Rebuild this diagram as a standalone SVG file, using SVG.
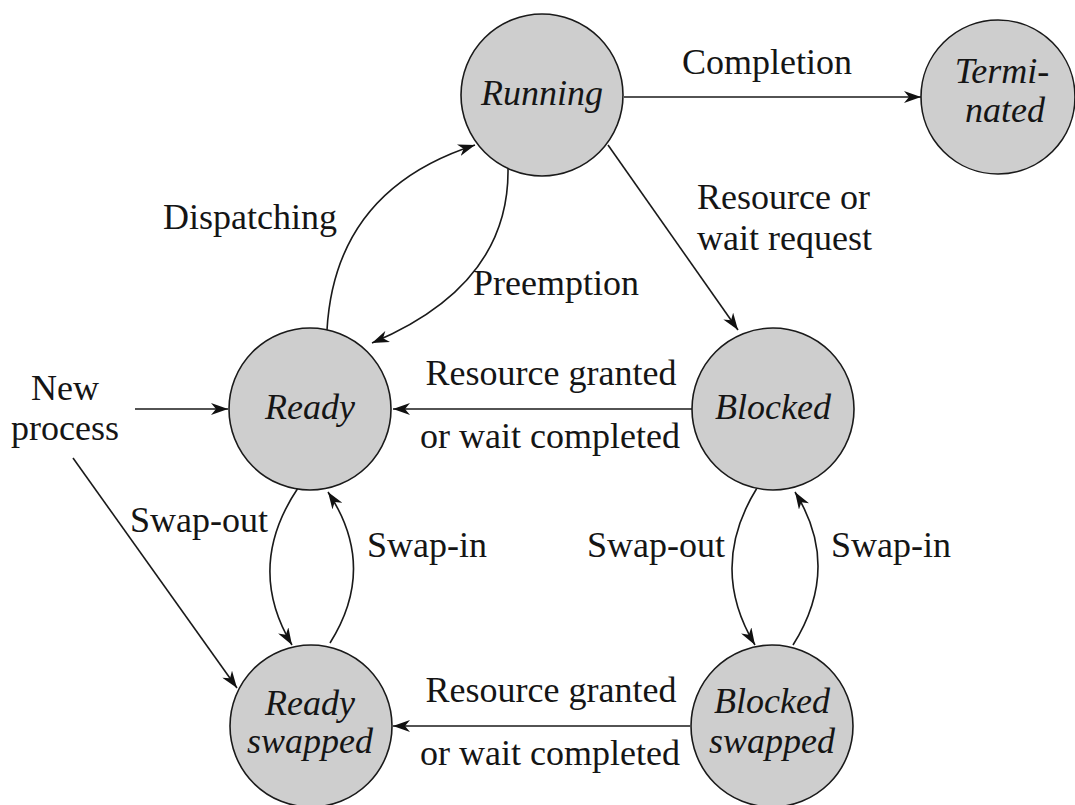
<svg xmlns="http://www.w3.org/2000/svg" width="1075" height="805" viewBox="0 0 1075 805">
  <defs>
    <marker id="arrow" markerUnits="userSpaceOnUse" markerWidth="18" markerHeight="12" refX="17" refY="6" orient="auto">
      <path d="M0,0 L17,6 L0,12 L5,6 z" fill="#111"/>
    </marker>
  </defs>
  <style>
    .state circle { fill: #cecece; stroke: #1a1a1a; stroke-width: 1.6; }
    .state text { font-family: "Liberation Serif", "Times New Roman", serif; font-style: italic; font-size: 36px; fill: #151515; text-anchor: middle; }
    .edge { fill: none; stroke: #1a1a1a; stroke-width: 1.6; }
    .arr { marker-end: url(#arrow); }
    .label { font-family: "Liberation Serif", "Times New Roman", serif; font-size: 36px; fill: #151515; text-anchor: middle; }
  </style>
  <rect width="1075" height="805" fill="#ffffff"/>

  <!-- transitions -->
  <g id="connectors">
    <!-- Running -> Terminated -->
    <line class="edge arr" x1="624" y1="97" x2="921" y2="97"/>
    <!-- Running -> Blocked -->
    <line class="edge arr" x1="608" y1="145" x2="738" y2="330"/>
    <!-- Ready -> Running (dispatching) -->
    <path class="edge arr" d="M327,330 Q335,190 475,145"/>
    <!-- Running -> Ready (preemption) -->
    <path class="edge arr" d="M508,168 Q510,285 372,343"/>
    <!-- Blocked -> Ready -->
    <line class="edge arr" x1="692" y1="409" x2="393" y2="409"/>
    <!-- New process -> Ready -->
    <line class="edge arr" x1="135" y1="409" x2="228" y2="409"/>
    <!-- New process -> Ready swapped -->
    <line class="edge arr" x1="73" y1="458" x2="237" y2="688"/>
    <!-- Ready <-> Ready swapped -->
    <path class="edge arr" d="M298,488 Q245,567 292,645"/>
    <path class="edge arr" d="M330,643 Q378,567 328,492"/>
    <!-- Blocked <-> Blocked swapped -->
    <path class="edge arr" d="M757,488 Q708,567 755,645"/>
    <path class="edge arr" d="M793,645 Q842,567 795,492"/>
    <!-- Blocked swapped -> Ready swapped -->
    <line class="edge arr" x1="690" y1="726" x2="393" y2="726"/>
  </g>

  <!-- transition labels -->
  <g id="labels">
    <text class="label" x="767" y="74">Completion</text>
    <text class="label" x="697" y="209" text-anchor="start" style="text-anchor:start">Resource or</text>
    <text class="label" x="697" y="250" style="text-anchor:start">wait request</text>
    <text class="label" x="250" y="229">Dispatching</text>
    <text class="label" x="556" y="295">Preemption</text>
    <text class="label" x="551" y="385">Resource granted</text>
    <text class="label" x="550" y="448">or wait completed</text>
    <text class="label" x="65" y="400">New</text>
    <text class="label" x="65" y="440">process</text>
    <text class="label" x="199" y="532">Swap-out</text>
    <text class="label" x="427" y="557">Swap-in</text>
    <text class="label" x="656" y="557">Swap-out</text>
    <text class="label" x="891" y="557">Swap-in</text>
    <text class="label" x="551" y="702">Resource granted</text>
    <text class="label" x="550" y="765">or wait completed</text>
  </g>

  <!-- states -->
  <g id="running" class="state">
    <circle cx="542" cy="95" r="81"/>
    <text x="542" y="105">Running</text>
  </g>
  <g id="terminated" class="state">
    <circle cx="998" cy="97" r="77"/>
    <text x="1002" y="83">Termi-</text>
    <text x="1005" y="122">nated</text>
  </g>
  <g id="ready" class="state">
    <circle cx="310" cy="409" r="81"/>
    <text x="310" y="419">Ready</text>
  </g>
  <g id="blocked" class="state">
    <circle cx="773" cy="409" r="81"/>
    <text x="773" y="419">Blocked</text>
  </g>
  <g id="ready-swapped" class="state">
    <circle cx="311" cy="726" r="81"/>
    <text x="310" y="715">Ready</text>
    <text x="310" y="753">swapped</text>
  </g>
  <g id="blocked-swapped" class="state">
    <circle cx="772" cy="726" r="81"/>
    <text x="772" y="713">Blocked</text>
    <text x="772" y="753">swapped</text>
  </g>
</svg>
